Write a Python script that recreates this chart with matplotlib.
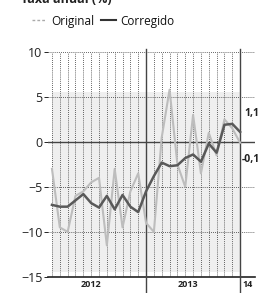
import matplotlib
matplotlib.use("Agg")
import matplotlib.pyplot as plt
from matplotlib.lines import Line2D

plt.rcParams['font.family'] = ['Open Sans', 'DejaVu Sans']

# === Data (monthly, Jan 2012 .. Jan 2014) ===
months = list(range(25))
original = [-3.0, -9.5, -10.0, -6.0, -5.5, -4.5, -4.0, -11.5, -3.0, -9.5,
            -5.5, -3.5, -9.0, -10.0, 0.5, 5.8, -2.5, -5.0, 3.0, -3.5,
            1.0, -1.5, 2.5, 1.5, -0.1]
corrigido = [-7.0, -7.2, -7.2, -6.5, -5.8, -6.8, -7.3, -6.0, -7.5, -5.9,
             -7.2, -7.8, -5.5, -3.8, -2.3, -2.7, -2.6, -1.8, -1.4, -2.2,
             -0.2, -1.2, 1.9, 2.0, 1.1]
year_labels = ["2012", "2013", "14"]
year_pos = [5.0, 17.4, 24.3]
yticks = [10, 5, 0, -5, -10, -15]

# === Figure ===
fig = plt.figure(figsize=(2.64, 2.93), dpi=100)
ax = fig.add_axes([0.182, 0.055, 0.784, 0.768])
ax.set_xlim(-0.5, 25.9)
ax.set_ylim(-15, 10)

# light background behind the series
ax.fill_between([0, 24], -14.5, 5.5, color='#efefef', lw=0, zorder=0)

# grid
for m in months[:-1]:
    ax.plot([m, m], [-15, 10], color='#333333', lw=0.6, ls=(0, (1, 1.5)), zorder=1)
for y in [10, 5, -5, -10]:
    ax.axhline(y, color='#333333', lw=0.6, ls=(0, (1, 1.5)), zorder=1)
ax.axhline(0, color='#444444', lw=1.0, zorder=2)
ax.axhline(-15, color='#222222', lw=1.2, zorder=2, clip_on=False)
for m in [12, 24]:
    ax.plot([m, m], [-17, 10.3], color='#444444', lw=1.0, zorder=2, clip_on=False)

# series
ax.plot(months, original, color='#bdbdbd', lw=1.5, zorder=3)
ax.plot(months, corrigido, color='#595959', lw=1.8, zorder=4)

# end values
ax.text(24.6, 3.2, "1,1", fontsize=7.5, fontweight='bold', color='#222222', va='center')
ax.text(24.2, -2.0, "-0,1", fontsize=7.5, fontweight='bold', color='#222222', va='center')

# axes text
for spine in ax.spines.values():
    spine.set_visible(False)
ax.set_xticks([])
ax.set_yticks(yticks)
ax.set_yticklabels([str(t).replace('-', '\u2212') for t in yticks], fontsize=9, color='#222222')
ax.tick_params(axis='y', length=3, width=0.6, pad=1)
for x, lab in zip(year_pos, year_labels):
    ax.text(x, -15.35, lab, fontsize=6.5, fontweight='bold', ha='center' if lab != "14" else 'left',
            va='top', color='#222222', clip_on=False)

# title (cut at top) and legend
fig.text(0.08, 0.99, "Taxa anual (%)", fontsize=9, fontweight='bold', va='baseline', color='#222222')
handles = [Line2D([], [], color='#aaaaaa', lw=1.0, ls=(0, (2, 1.5))),
           Line2D([], [], color='#333333', lw=1.5)]
fig.legend(handles, ["Original", "Corregido"], loc='center left', bbox_to_anchor=(0.1, 0.928),
           ncol=2, frameon=False, fontsize=8.5, handlelength=1.2, handletextpad=0.4,
           columnspacing=0.6, borderpad=0, labelcolor='#111111')

fig.savefig('out.png', dpi=100)
